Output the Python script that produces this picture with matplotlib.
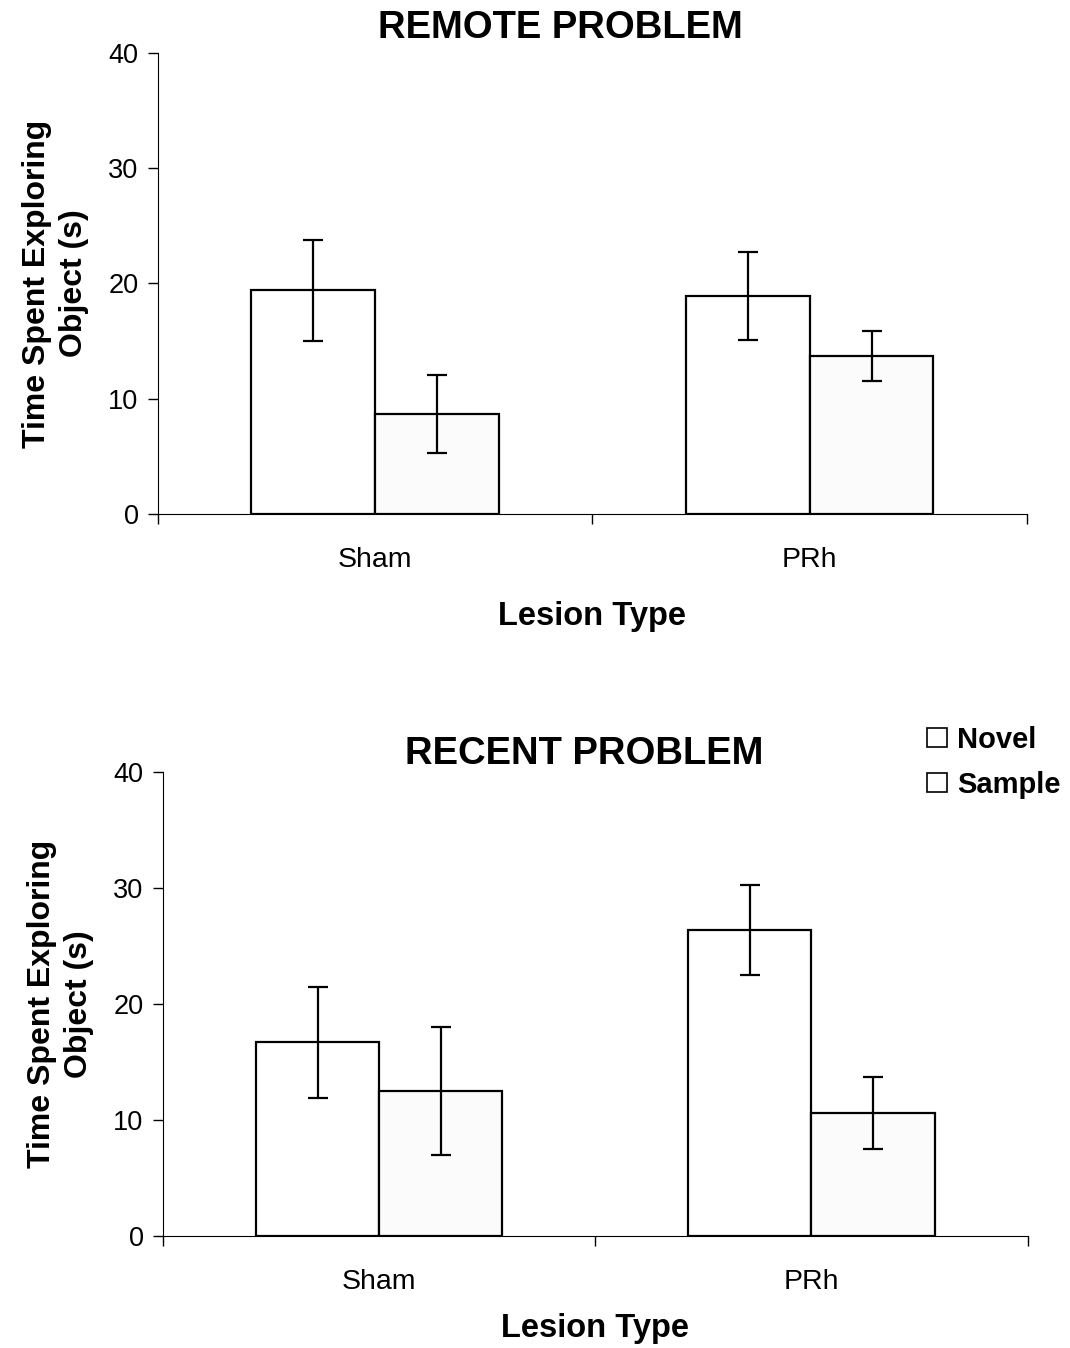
import matplotlib.pyplot as plt
import numpy as np
from matplotlib.patches import Patch

plt.rcParams['font.family'] = ['Liberation Sans', 'DejaVu Sans']

groups = ["Sham", "PRh"]
series = ["Novel", "Sample"]

# remote problem
remote_novel = [19.4, 18.9]
remote_novel_err = [4.4, 3.8]
remote_sample = [8.7, 13.7]
remote_sample_err = [3.4, 2.2]

# recent problem
recent_novel = [16.7, 26.4]
recent_novel_err = [4.8, 3.9]
recent_sample = [12.5, 10.6]
recent_sample_err = [5.5, 3.1]

fig = plt.figure(figsize=(10.7, 13.48), dpi=100)
ax1 = fig.add_axes([0.1477, 0.6187, 0.812, 0.342])
ax2 = fig.add_axes([0.1523, 0.0831, 0.808, 0.344])

w = 0.285
x = np.arange(len(groups)) + 0.5


def draw(ax, novel, novel_err, sample, sample_err, title, title_x, title_pad, xpad):
    ax.bar(x - w / 2, novel, w, color="white", edgecolor="black", linewidth=1.6)
    ax.bar(x + w / 2, sample, w, color="#fbfbfb", edgecolor="black", linewidth=1.6)
    ax.errorbar(x - w / 2, novel, yerr=novel_err, fmt="none", ecolor="black",
                elinewidth=1.6, capsize=7, capthick=1.6)
    ax.errorbar(x + w / 2, sample, yerr=sample_err, fmt="none", ecolor="black",
                elinewidth=1.6, capsize=7, capthick=1.6)
    ax.set_xlim(0, 2)
    ax.set_ylim(0, 40)
    ax.set_yticks([0, 10, 20, 30, 40])
    ax.set_xticks([0, 1, 2])
    ax.set_xticklabels([])
    ax.set_xticks(x, minor=True)
    ax.set_xticklabels(groups, minor=True)
    ax.tick_params(axis="x", which="minor", length=0, pad=24, labelsize=20.5)
    ax.tick_params(axis="x", which="major", length=7, width=1)
    ax.tick_params(axis="y", length=7, width=1, labelsize=19.5, pad=7)
    ax.spines["top"].set_visible(False)
    ax.spines["right"].set_visible(False)
    ax.set_xlabel("Lesion Type", fontsize=23.5, fontweight="bold", labelpad=xpad)
    ax.set_ylabel("Time Spent Exploring\nObject (s)", fontsize=23,
                  fontweight="bold", labelpad=14, linespacing=1.3)
    ax.set_title(title, fontsize=27.5, fontweight="bold", x=title_x, pad=title_pad)


draw(ax1, remote_novel, remote_novel_err, remote_sample, remote_sample_err,
     "REMOTE PROBLEM", 0.4626, 11, 20)
draw(ax2, recent_novel, recent_novel_err, recent_sample, recent_sample_err,
     "RECENT PROBLEM", 0.487, 2, 13)

handles = [Patch(facecolor="white", edgecolor="black", linewidth=1.2, label=s)
           for s in series]
leg = fig.legend(handles=handles, loc="upper right", bbox_to_anchor=(1.0045, 0.4725),
                 frameon=False, prop={"weight": "bold", "size": 21}, borderpad=0,
                 handlelength=0.66, handleheight=0.66, handletextpad=0.35,
                 labelspacing=0.58)

fig.savefig("out.png", dpi=100)
